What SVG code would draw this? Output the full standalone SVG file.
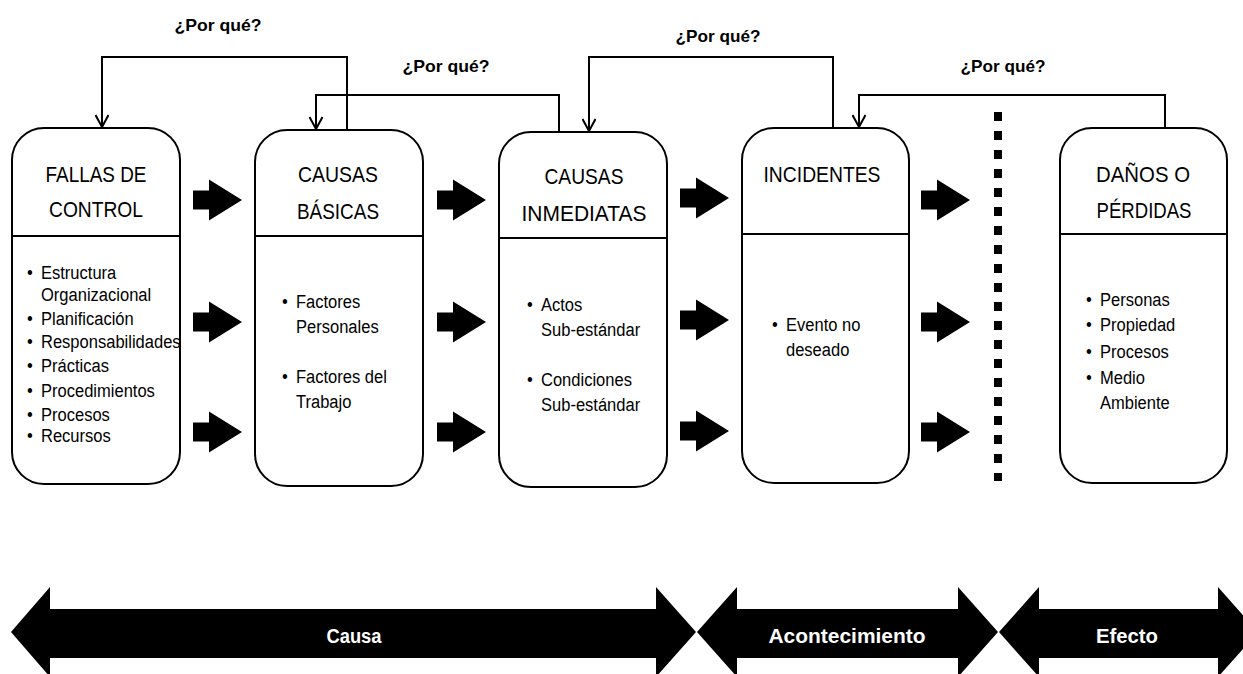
<svg xmlns="http://www.w3.org/2000/svg" width="1243" height="674" viewBox="0 0 1243 674">
<style>
.box{fill:#fff;stroke:#000;stroke-width:2}
.div{stroke:#000;stroke-width:2}
.hdr{font-family:"Liberation Sans",Arial,sans-serif;font-size:22.5px;fill:#000;text-anchor:middle}
.body{font-family:"Liberation Sans",Arial,sans-serif;font-size:19px;fill:#000}
.why{font-family:"Liberation Sans",Arial,sans-serif;font-size:17px;font-weight:bold;fill:#000}
.band{font-family:"Liberation Sans",Arial,sans-serif;font-size:20px;font-weight:bold;fill:#fff}
.conn{fill:none;stroke:#000;stroke-width:2}
</style>
<defs>
<marker id="open" viewBox="0 0 14 14" refX="13" refY="7" markerWidth="14" markerHeight="14" markerUnits="userSpaceOnUse" orient="auto">
<path d="M1,0.5 L13,7 L1,13.5" fill="none" stroke="#000" stroke-width="2"/>
</marker>
<path id="blk" d="M0,-9.5 H16 V-20.5 L49,0 L16,20.5 V9.5 H0 Z" fill="#000"/>
</defs>

<g id="connectors">
<path class="conn" d="M347,130 V57 H102 V127" marker-end="url(#open)"/>
<path class="conn" d="M559,132 V95 H316 V129" marker-end="url(#open)"/>
<path class="conn" d="M833,128 V57 H589 V131" marker-end="url(#open)"/>
<path class="conn" d="M1165,128 V95 H859 V127" marker-end="url(#open)"/>
<text class="why" x="218" y="31" text-anchor="middle" textLength="87" lengthAdjust="spacingAndGlyphs">¿Por qué?</text>
<text class="why" x="446" y="72" text-anchor="middle" textLength="87" lengthAdjust="spacingAndGlyphs">¿Por qué?</text>
<text class="why" x="718" y="42" text-anchor="middle" textLength="85" lengthAdjust="spacingAndGlyphs">¿Por qué?</text>
<text class="why" x="1003" y="72" text-anchor="middle" textLength="85" lengthAdjust="spacingAndGlyphs">¿Por qué?</text>
</g>

<g id="block-arrows">
<use href="#blk" x="193" y="200"/>
<use href="#blk" x="193" y="322"/>
<use href="#blk" x="193" y="432"/>
<use href="#blk" x="437" y="200"/>
<use href="#blk" x="437" y="322"/>
<use href="#blk" x="437" y="432"/>
<use href="#blk" x="680" y="198"/>
<use href="#blk" x="680" y="320"/>
<use href="#blk" x="680" y="431"/>
<use href="#blk" x="921" y="200"/>
<use href="#blk" x="921" y="322"/>
<use href="#blk" x="921" y="432"/>
</g>

<g id="divider">
<line x1="998" y1="112" x2="998" y2="481" stroke="#000" stroke-width="8" stroke-dasharray="9 10"/>
</g>

<g id="n1">
<rect class="box" x="12" y="128" width="168" height="356" rx="32"/>
<line class="div" x1="12" y1="236" x2="180" y2="236"/>
<text class="hdr" x="96" y="182" textLength="101" lengthAdjust="spacingAndGlyphs">FALLAS DE</text>
<text class="hdr" x="96" y="217" textLength="94" lengthAdjust="spacingAndGlyphs">CONTROL</text>
<g class="body" transform="matrix(0.87,0,0,1,5.33,0)">
<text x="25" y="279">•</text><text x="41" y="279">Estructura</text>
<text x="41" y="301">Organizacional</text>
<text x="25" y="325">•</text><text x="41" y="325">Planificación</text>
<text x="25" y="348">•</text><text x="41" y="348">Responsabilidades</text>
<text x="25" y="372">•</text><text x="41" y="372">Prácticas</text>
<text x="25" y="397">•</text><text x="41" y="397">Procedimientos</text>
<text x="25" y="421">•</text><text x="41" y="421">Procesos</text>
<text x="25" y="442">•</text><text x="41" y="442">Recursos</text>
</g>
</g>

<g id="n2">
<rect class="box" x="255" y="130" width="168" height="356" rx="32"/>
<line class="div" x1="255" y1="236" x2="423" y2="236"/>
<text class="hdr" x="338" y="182" textLength="80" lengthAdjust="spacingAndGlyphs">CAUSAS</text>
<text class="hdr" x="338" y="219" textLength="82" lengthAdjust="spacingAndGlyphs">BÁSICAS</text>
<g class="body" transform="matrix(0.87,0,0,1,38.48,0)">
<text x="280" y="308">•</text><text x="296" y="308">Factores</text>
<text x="296" y="333">Personales</text>
<text x="280" y="383">•</text><text x="296" y="383">Factores del</text>
<text x="296" y="408">Trabajo</text>
</g>
</g>

<g id="n3">
<rect class="box" x="499" y="132" width="168" height="355" rx="32"/>
<line class="div" x1="499" y1="238" x2="667" y2="238"/>
<text class="hdr" x="584" y="184" textLength="79" lengthAdjust="spacingAndGlyphs">CAUSAS</text>
<text class="hdr" x="584" y="221" textLength="125" lengthAdjust="spacingAndGlyphs">INMEDIATAS</text>
<g class="body" transform="matrix(0.87,0,0,1,70.33,0)">
<text x="525" y="311">•</text><text x="541" y="311">Actos</text>
<text x="541" y="336">Sub-estándar</text>
<text x="525" y="386">•</text><text x="541" y="386">Condiciones</text>
<text x="541" y="411">Sub-estándar</text>
</g>
</g>

<g id="n4">
<rect class="box" x="742" y="128" width="167" height="355" rx="32"/>
<line class="div" x1="742" y1="234" x2="909" y2="234"/>
<text class="hdr" x="822" y="182" textLength="117" lengthAdjust="spacingAndGlyphs">INCIDENTES</text>
<g class="body" transform="matrix(0.87,0,0,1,102.18,0)">
<text x="770" y="331">•</text><text x="786" y="331">Evento no</text>
<text x="786" y="356">deseado</text>
</g>
</g>

<g id="n5">
<rect class="box" x="1060" y="128" width="167" height="355" rx="32"/>
<line class="div" x1="1060" y1="234" x2="1227" y2="234"/>
<text class="hdr" x="1143" y="182" textLength="94" lengthAdjust="spacingAndGlyphs">DAÑOS O</text>
<text class="hdr" x="1144" y="218" textLength="95" lengthAdjust="spacingAndGlyphs">PÉRDIDAS</text>
<g class="body" transform="matrix(0.87,0,0,1,143,0)">
<text x="1084" y="306">•</text><text x="1100" y="306">Personas</text>
<text x="1084" y="331">•</text><text x="1100" y="331">Propiedad</text>
<text x="1084" y="358">•</text><text x="1100" y="358">Procesos</text>
<text x="1084" y="384">•</text><text x="1100" y="384">Medio</text>
<text x="1100" y="409">Ambiente</text>
</g>
</g>

<g id="band-causa">
<polygon points="11,632 50,587 50,609 656,609 656,587 696,632 656,677 656,658 50,658 50,677" fill="#000"/>
<text class="band" x="354" y="643" text-anchor="middle" textLength="55" lengthAdjust="spacingAndGlyphs">Causa</text>
</g>
<g id="band-acontecimiento">
<polygon points="697,632 737,587 737,609 958,609 958,587 998,632 958,677 958,658 737,658 737,677" fill="#000"/>
<text class="band" x="847" y="643" text-anchor="middle" textLength="157" lengthAdjust="spacingAndGlyphs">Acontecimiento</text>
</g>
<g id="band-efecto">
<polygon points="999,632 1039,587 1039,609 1218,609 1218,587 1258,632 1218,677 1218,658 1039,658 1039,677" fill="#000"/>
<text class="band" x="1127" y="643" text-anchor="middle" textLength="62" lengthAdjust="spacingAndGlyphs">Efecto</text>
</g>
</svg>
